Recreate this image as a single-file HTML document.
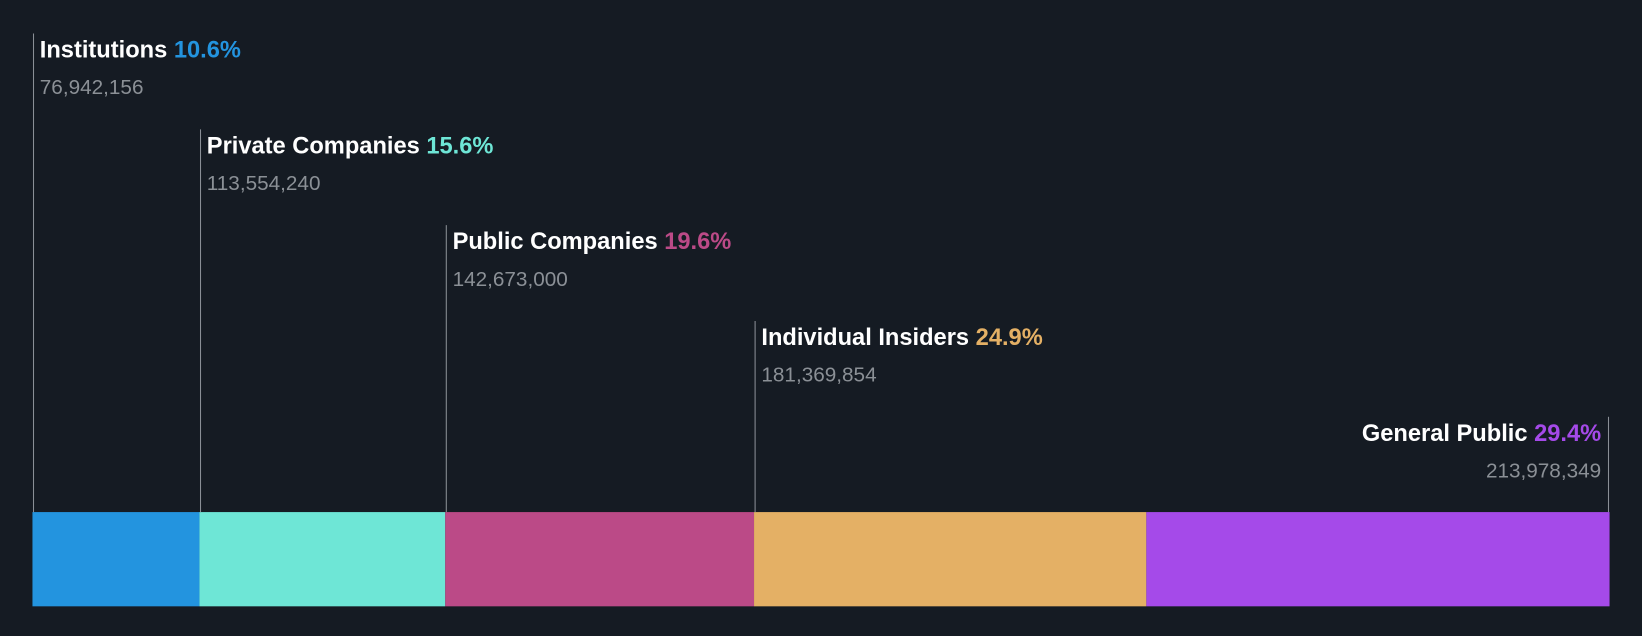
<!DOCTYPE html>
<html><head><meta charset="utf-8"><style>
body{margin:0;background:#151b23;width:1642px;height:636px;overflow:hidden}
svg{display:block}
text{font-family:"Liberation Sans",Roboto,sans-serif}
</style></head><body>
<svg width="1642" height="636"><g id="c" transform="scale(1.0472)"></g></svg>
<script>
const categories=["Institutions","Private Companies","Public Companies","Individual Insiders","General Public"];
const percents=[10.6,15.6,19.6,24.9,29.4];
const shares=["76,942,156","113,554,240","142,673,000","181,369,854","213,978,349"];
const colors=["#2394df","#6ee6d6","#bb4a87","#e4b065","#a54ae9"];
const svg=document.getElementById('c');
const NS="http://www.w3.org/2000/svg";
const x0=31,x1=1537,barY=489,barH=90;
const total=percents.reduce((a,b)=>a+b,0);
const xs=v=>x0+(v/total)*(x1-x0);
function mk(t,a){const e=document.createElementNS(NS,t);for(const k in a)e.setAttribute(k,a[k]);svg.appendChild(e);return e;}
let cum=0;
percents.forEach((p,i)=>{
  const xa=xs(cum),xb=xs(cum+p);cum+=p;
  const r=mk('rect',{x:xa,y:barY,width:xb-xa,height:barH,fill:colors[i]});
  
  
  const last=i===percents.length-1;
  const lx=last?xb-1:xa+1;
  const top=32+i*91.5;
  const ln=mk('line',{x1:lx,x2:lx,y1:top,y2:barY,stroke:'#8a8f96','stroke-width':1});
  
  
  const tx=last?lx-7:lx+6,anchor=last?'end':'start';
  const t=mk('text',{x:tx,y:top+23,'font-size':22.6,'font-weight':'bold',fill:'#ffffff','text-anchor':anchor});
  
  
  t.textContent=categories[i]+' ';
  const ts=document.createElementNS(NS,'tspan');ts.setAttribute('fill',colors[i]);ts.textContent=p.toFixed(1)+'%';t.appendChild(ts);
  const v=mk('text',{x:tx,y:top+58,'font-size':19.8,fill:'#8b9096','text-anchor':anchor});
  
  
  v.textContent=shares[i];
});
</script>
</body></html>
